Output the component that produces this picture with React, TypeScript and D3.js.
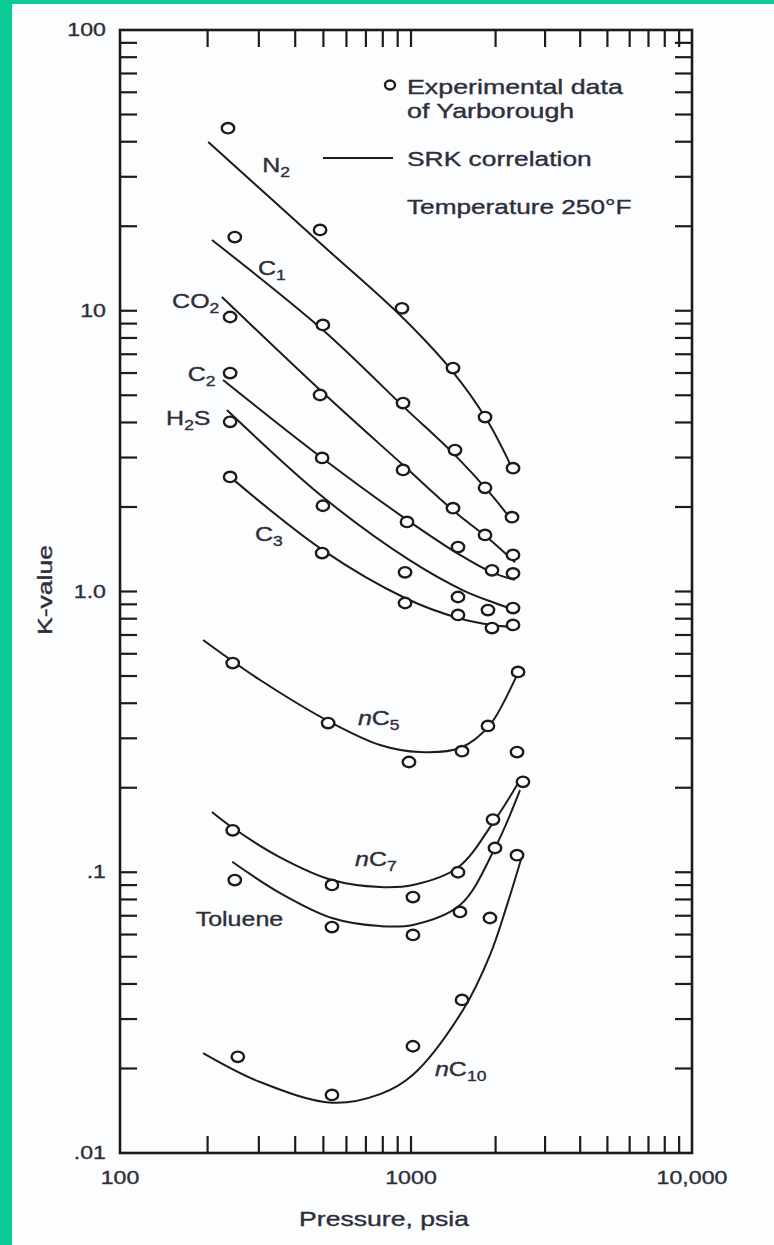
import * as d3 from "d3";

const W = 774;
const H = 1245;

// [pressure psia, K-value]
const n2Points = [[235, 44.7], [487, 19.4], [931, 10.2], [1411, 6.25], [1834, 4.18], [2307, 2.75]];
const c1Points = [[248, 18.3], [498, 8.9], [939, 4.69], [1434, 3.19], [1834, 2.34], [2288, 1.84]];
const co2Points = [[239, 9.5], [487, 5.01], [939, 2.71], [1411, 1.98], [1834, 1.59], [2307, 1.35]];
const c2Points = [[239, 6.0], [495, 2.99], [969, 1.77], [1470, 1.44], [1942, 1.19], [2307, 1.16]];
const h2sPoints = [[239, 4.02], [498, 2.02], [954, 1.17], [1470, 0.956], [1879, 0.859], [2307, 0.873]];
const c3Points = [[239, 2.56], [495, 1.37], [954, 0.91], [1470, 0.825], [1942, 0.741], [2307, 0.76]];
const nc5Points = [[244, 0.556], [519, 0.34], [984, 0.247], [1519, 0.27], [1879, 0.332], [2404, 0.517]];
const nc7Points = [[244, 0.141], [535, 0.0901], [1016, 0.0816], [1470, 0.1], [1958, 0.154], [2384, 0.268]];
const toluenePoints = [[248, 0.0938], [535, 0.0638], [1016, 0.0598], [1494, 0.0722], [1990, 0.122], [2503, 0.21]];
const nc10Points = [[254, 0.022], [535, 0.0161], [1016, 0.024], [1519, 0.0351], [1910, 0.0687], [2384, 0.115]];

// SRK correlation curves, sampled along the drawn lines
const n2Curve = [[201, 39.9], [487, 17.43], [939, 9.42], [1411, 6.05], [1864, 4.08], [2326, 2.66]];
const c1Curve = [[207, 17.86], [498, 8.54], [954, 4.5], [1434, 3.06], [1910, 2.24], [2307, 1.77]];
const co2Curve = [[224, 11.19], [487, 5.22], [939, 2.82], [1434, 1.92], [1910, 1.53], [2345, 1.27]];
const c2Curve = [[226, 5.67], [495, 2.99], [969, 1.8], [1494, 1.35], [1942, 1.17], [2345, 1.1]];
const h2sCurve = [[233, 4.43], [498, 2.17], [992, 1.29], [1531, 1.01], [1990, 0.91], [2345, 0.859]];
const c3Curve = [[239, 2.56], [495, 1.41], [954, 0.948], [1470, 0.805], [1942, 0.76], [2345, 0.747]];
const nc5Curve = [[193, 0.672], [303, 0.484], [527, 0.343], [783, 0.284], [1076, 0.268], [1494, 0.277], [1910, 0.335], [2404, 0.517]];
const nc7Curve = [[207, 0.164], [244, 0.144], [355, 0.113], [535, 0.0938], [783, 0.0886], [1016, 0.0901], [1470, 0.104], [1958, 0.15], [2443, 0.213]];
const tolueneCurve = [[243, 0.109], [355, 0.0843], [535, 0.0687], [783, 0.0643], [1016, 0.0649], [1494, 0.0764], [1990, 0.122], [2443, 0.196]];
const nc10Curve = [[193, 0.0227], [303, 0.0179], [535, 0.0151], [783, 0.0162], [1016, 0.019], [1531, 0.0323], [1910, 0.0507], [2196, 0.0764], [2463, 0.111]];

// component names and where their label sits, [pressure, K]
const labelNames = ["N", "C", "CO", "C", "H", "C", "C", "C", "Toluene", "C"];
const labelSubs = ["2", "1", "2", "2", "2", "3", "5", "7", "", "10"];
const labelTails = ["", "", "", "", "S", "", "", "", "", ""];
const labelItalicN = [false, false, false, false, false, false, true, true, false, true];
const labelAnchors = [[308, 31.2], [298, 13.4], [151, 10.2], [171, 5.62], [144, 3.92], [291, 1.51], [657, 0.335], [642, 0.105], [182, 0.0643], [1217, 0.0188]];

const allPoints = [n2Points, c1Points, co2Points, c2Points, h2sPoints, c3Points, nc5Points, nc7Points, toluenePoints, nc10Points];
const allCurves = [n2Curve, c1Curve, co2Curve, c2Curve, h2sCurve, c3Curve, nc5Curve, nc7Curve, tolueneCurve, nc10Curve];

const xMinor = [200, 300, 400, 500, 600, 700, 800, 900, 1000, 2000, 3000, 4000, 5000, 6000, 7000, 8000, 9000];
const yMinor = [
  0.02, 0.03, 0.04, 0.05, 0.06, 0.07, 0.08, 0.09, 0.1,
  0.2, 0.3, 0.4, 0.5, 0.6, 0.7, 0.8, 0.9, 1,
  2, 3, 4, 5, 6, 7, 8, 9, 10,
  20, 30, 40, 50, 60, 70, 80, 90,
];
const xLabels = [[100, "100"], [1000, "1000"], [10000, "10,000"]];
const yLabels = [[100, "100"], [10, "10"], [1, "1.0"], [0.1, ".1"], [0.01, ".01"]];

const INK = "#1c1c1c";
const TEXT = "#2e2e3a";
const FONT = "'Liberation Sans', Arial, sans-serif";

export default function App() {
  const x = d3.scaleLog().domain([100, 1000, 10000]).range([120, 411, 692]);
  const y = d3.scaleLog().domain([0.01, 100]).range([1153, 30]);
  const left = 120, right = 692, top = 30, bottom = 1153;
  const tick = 17;

  const line = d3
    .line<number[]>()
    .x((d) => x(d[0]))
    .y((d) => y(d[1]))
    .curve(d3.curveCatmullRom.alpha(0.5));

  const txt = (px: number, py: number, content: any, size = 20, anchor = "start", sx = 1.3) => (
    <text
      transform={`translate(${px},${py}) scale(${sx},1)`}
      fontSize={size}
      fontFamily={FONT}
      fill={TEXT}
      stroke={TEXT}
      strokeWidth={0.35}
      textAnchor={anchor}
    >
      {content}
    </text>
  );

  return (
    <svg width={W} height={H} style={{ position: "absolute", left: 0, top: 0, background: "#fff" }}>
      <rect x={0} y={0} width={W} height={H} fill="#fbfdff" />
      <rect x={0} y={0} width={12} height={H} fill="#0ccb96" />
      <rect x={0} y={0} width={W} height={4} fill="#0ccb96" />

      {/* frame */}
      <rect x={left} y={top} width={right - left} height={bottom - top} fill="none" stroke={INK} strokeWidth={2.6} />
      {xMinor.map((v) => (
        <g key={"x" + v}>
          <line x1={x(v)} x2={x(v)} y1={bottom} y2={bottom - tick} stroke={INK} strokeWidth={2.2} />
          <line x1={x(v)} x2={x(v)} y1={top} y2={top + tick} stroke={INK} strokeWidth={2.2} />
        </g>
      ))}
      {yMinor.map((v) => (
        <g key={"y" + v}>
          <line x1={left} x2={left + tick} y1={y(v)} y2={y(v)} stroke={INK} strokeWidth={2.2} />
          <line x1={right} x2={right - tick} y1={y(v)} y2={y(v)} stroke={INK} strokeWidth={2.2} />
        </g>
      ))}

      {/* tick labels */}
      {xLabels.map(([v, s]) => (
        <g key={"xl" + s}>{txt(x(v as number), bottom + 31, s, 19, "middle", 1.22)}</g>
      ))}
      {yLabels.map(([v, s]) => (
        <g key={"yl" + s}>{txt(left - 14, y(v as number) + 6, s, 19, "end", 1.22)}</g>
      ))}
      {txt(384, 1226, "Pressure, psia", 20, "middle", 1.33)}
      <text
        transform={`translate(52,590) rotate(-90) scale(1.33,1)`}
        fontSize={20}
        fontFamily={FONT}
        fill={TEXT}
        stroke={TEXT}
        strokeWidth={0.35}
        textAnchor="middle"
      >
        K-value
      </text>

      {/* correlation curves */}
      {allCurves.map((c, i) => (
        <path key={"c" + i} d={line(c) || ""} fill="none" stroke={INK} strokeWidth={2} />
      ))}

      {/* experimental points */}
      {allPoints.map((pts, i) =>
        pts.map((p, j) => (
          <ellipse
            key={"p" + i + "-" + j}
            cx={x(p[0])}
            cy={y(p[1])}
            rx={6.2}
            ry={5.2}
            fill="#fff"
            stroke={INK}
            strokeWidth={2.4}
          />
        ))
      )}

      {/* component labels */}
      {labelAnchors.map((a, i) => (
        <g key={"lab" + i}>
          {txt(
            x(a[0]),
            y(a[1]),
            <>
              {labelItalicN[i] && <tspan fontStyle="italic">n</tspan>}
              {labelNames[i]}
              {labelSubs[i] && (
                <tspan fontSize={14} dy={5}>
                  {labelSubs[i]}
                </tspan>
              )}
              {labelTails[i] && <tspan dy={-5}>{labelTails[i]}</tspan>}
            </>,
            20,
            "start",
            1.25
          )}
        </g>
      ))}

      {/* legend */}
      <ellipse cx={390} cy={85} rx={5} ry={4.5} fill="#fff" stroke={INK} strokeWidth={2.4} />
      {txt(407, 94, "Experimental data", 20, "start", 1.34)}
      {txt(407, 118, "of Yarborough", 20, "start", 1.34)}
      <line x1={323} x2={393} y1={158} y2={158} stroke={INK} strokeWidth={2.2} />
      {txt(407, 166, "SRK correlation", 20, "start", 1.32)}
      {txt(407, 214, "Temperature 250\u00b0F", 20, "start", 1.31)}
    </svg>
  );
}
